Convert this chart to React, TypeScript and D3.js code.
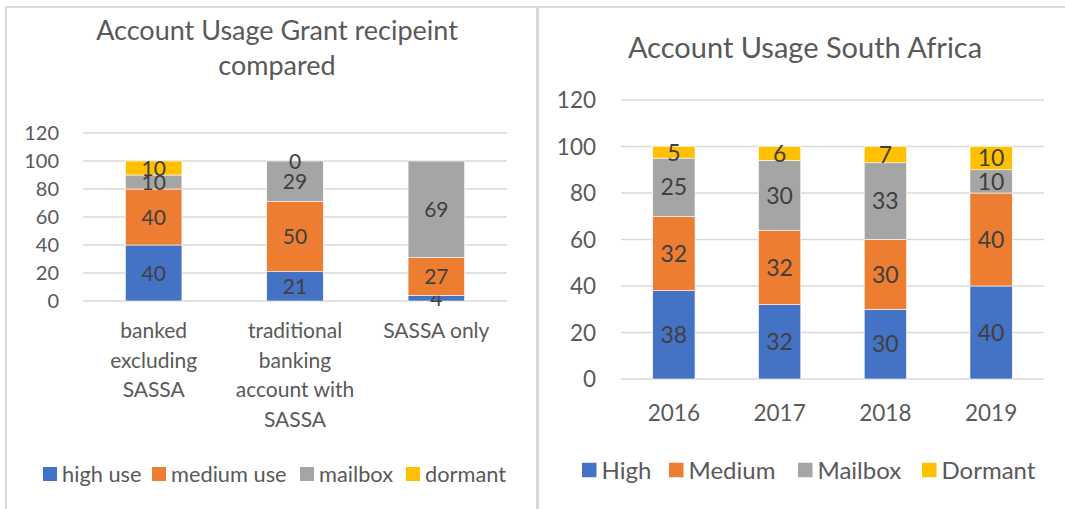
import React from 'react'
import * as d3 from 'd3'

// left chart: grant recipients
const grantCategories = ['banked excluding SASSA', 'traditional banking account with SASSA', 'SASSA only']
const grantCategoryLines = [['banked', 'excluding', 'SASSA'], ['traditional', 'banking', 'account with', 'SASSA'], ['SASSA only']]
const grantHigh = [40, 21, 4]
const grantMedium = [40, 50, 27]
const grantMailbox = [10, 29, 69]
const grantDormant = [10, 0, null]
const grantSeriesNames = ['high use', 'medium use', 'mailbox', 'dormant']

// right chart: South Africa by year
const years = ['2016', '2017', '2018', '2019']
const saHigh = [38, 32, 30, 40]
const saMedium = [32, 32, 30, 40]
const saMailbox = [25, 30, 33, 10]
const saDormant = [5, 6, 7, 10]
const saSeriesNames = ['High', 'Medium', 'Mailbox', 'Dormant']

const yTicks = [0, 20, 40, 60, 80, 100, 120]
const colors = ['#4472C4', '#ED7D31', '#A5A5A5', '#FFC000']
const FONT = 'Lato, "Open Sans", sans-serif'

type ChartProps = {
  title: string[]
  titleX: number
  titleY: number[]
  titleSize: number
  categories: string[]
  labelLines: string[][]
  series: (number | null)[][]
  names: string[]
  x0: number
  x1: number
  yTop: number
  yBottom: number
  tickSize: number
  tickRight: number
  valueSize: number
  catSize: number
  catY: number
  catLineH: number
  legendY: number
  legendSize: number
  legendBox: number
  legendX: number[]
}

const StackedChart = (p: ChartProps) => {
  const x = d3.scaleBand().domain(p.categories).range([p.x0, p.x1]).paddingInner(0.6).paddingOuter(0.3)
  const y = d3.scaleLinear().domain([0, 120]).range([p.yBottom, p.yTop])

  return (
    <g fontFamily={FONT}>
      {p.title.map((t, i) => (
        <text key={t} x={p.titleX} y={p.titleY[i]} textAnchor="middle" fontSize={p.titleSize} fill="#595959">{t}</text>
      ))}
      {yTicks.map(t => (
        <g key={t}>
          <line x1={p.x0} x2={p.x1} y1={y(t)} y2={y(t)} stroke="#d9d9d9" strokeWidth={1.5} />
          <text x={p.tickRight} y={y(t)} dy="0.36em" textAnchor="end" fontSize={p.tickSize} fill="#595959">{t}</text>
        </g>
      ))}
      {p.categories.map((c, ci) => {
        let base = 0
        return (
          <g key={c}>
            {p.series.map((s, si) => {
              const v = s[ci]
              if (v === null) return null
              const top = base + v
              const y0 = y(base), y1 = y(top)
              base = top
              return (
                <g key={si}>
                  {v > 0 && <rect x={x(c)} y={y1} width={x.bandwidth()} height={y0 - y1} fill={colors[si]} stroke="#fff" strokeWidth={0.6} />}
                  <text x={x(c)! + x.bandwidth() / 2} y={(y0 + y1) / 2} dy="0.36em" textAnchor="middle" fontSize={p.valueSize} fill="#404040">{v}</text>
                </g>
              )
            })}
            {p.labelLines[ci].map((l, li) => (
              <text key={li} x={x(c)! + x.bandwidth() / 2} y={p.catY + li * p.catLineH} textAnchor="middle" fontSize={p.catSize} fill="#595959">{l}</text>
            ))}
          </g>
        )
      })}
      {p.names.map((n, i) => (
        <g key={n}>
          <rect x={p.legendX[i]} y={p.legendY - p.legendBox / 2} width={p.legendBox} height={p.legendBox} fill={colors[i]} />
          <text x={p.legendX[i] + p.legendBox + 5} y={p.legendY} dy="0.36em" fontSize={p.legendSize} fill="#595959">{n}</text>
        </g>
      ))}
    </g>
  )
}

export default function App() {
  return (
    <svg width={1065} height={509} style={{ position: 'absolute', left: 0, top: 0, background: '#fff' }}>
      <rect width={1065} height={509} fill="#fff" />
      <line x1={6} x2={1065} y1={7} y2={7} stroke="#d9d9d9" strokeWidth={2} />
      <line x1={6} x2={6} y1={6} y2={509} stroke="#d9d9d9" strokeWidth={2} />
      <line x1={537.5} x2={537.5} y1={6} y2={509} stroke="#d9d9d9" strokeWidth={3} />

      <StackedChart
        title={['Account Usage Grant recipeint', 'compared']}
        titleX={277} titleY={[40, 75]} titleSize={27}
        categories={grantCategories} labelLines={grantCategoryLines}
        series={[grantHigh, grantMedium, grantMailbox, grantDormant]}
        names={grantSeriesNames}
        x0={83} x1={507} yTop={133} yBottom={301}
        tickSize={20} tickRight={59} valueSize={21}
        catSize={21} catY={338} catLineH={29.5}
        legendY={474} legendSize={21.8} legendBox={14}
        legendX={[43, 152, 300, 406]}
      />
      <StackedChart
        title={['Account Usage South Africa']}
        titleX={805} titleY={[58]} titleSize={29}
        categories={years} labelLines={years.map(d => [d])}
        series={[saHigh, saMedium, saMailbox, saDormant]}
        names={saSeriesNames}
        x0={621} x1={1044} yTop={100} yBottom={379}
        tickSize={22.5} tickRight={596} valueSize={23}
        catSize={22.5} catY={421} catLineH={30}
        legendY={470} legendSize={24} legendBox={14.5}
        legendX={[582, 669, 798, 922]}
      />
    </svg>
  )
}
